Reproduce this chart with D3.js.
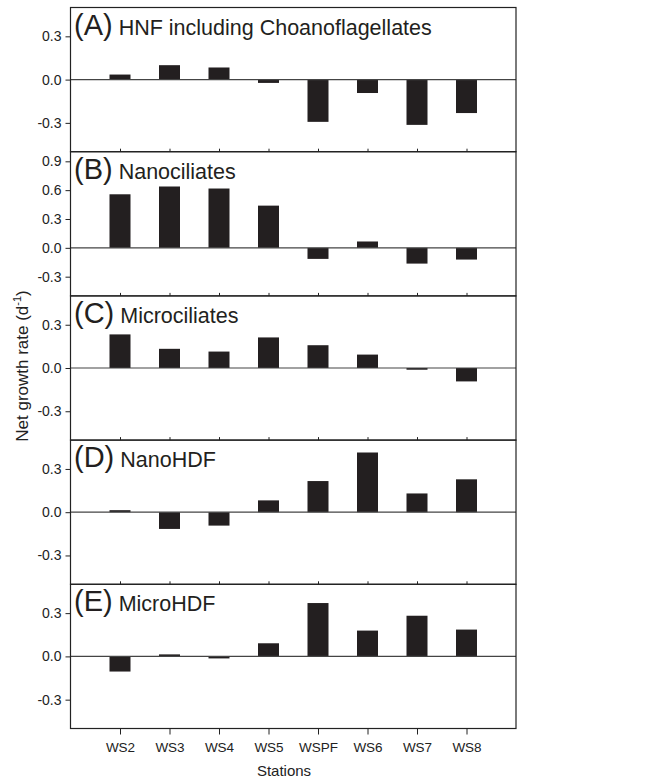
<!DOCTYPE html>
<html>
<head>
<meta charset="utf-8">
<script src="https://cdn.jsdelivr.net/npm/d3@7"></script>
<style>
  body { margin: 0; background: #fff; }
  svg { font-family: "Liberation Sans", Arial, sans-serif; }
  .axis path { display: none; }
  .axis line { stroke: #222; }
  .axis text { font-size: 14px; fill: #222; }
</style>
</head>
<body>
<div id="chart"></div>
<script>
// stations on the x axis
var stations = ['WS2', 'WS3', 'WS4', 'WS5', 'WSPF', 'WS6', 'WS7', 'WS8'];

// net growth rate (d-1) per panel
var hnfChoano = [0.035, 0.10, 0.084, -0.023, -0.293, -0.093, -0.314, -0.232];
var nanociliates = [0.557, 0.638, 0.617, 0.439, -0.115, 0.066, -0.164, -0.122];
var microciliates = [0.233, 0.133, 0.114, 0.212, 0.158, 0.093, -0.012, -0.093];
var nanoHDF = [0.014, -0.116, -0.093, 0.082, 0.216, 0.414, 0.130, 0.228];
var microHDF = [-0.105, 0.014, -0.014, 0.091, 0.37, 0.179, 0.282, 0.186];

var panelLetters = ['(A)', '(B)', '(C)', '(D)', '(E)'];
var panelNames = ['HNF including Choanoflagellates', 'Nanociliates', 'Microciliates', 'NanoHDF', 'MicroHDF'];
var panelMax = [0.5, 1.0, 0.5, 0.5, 0.5];
var yTicksSmall = [-0.3, 0, 0.3];
var yTicksB = [-0.3, 0, 0.3, 0.6, 0.9];

var series = [hnfChoano, nanociliates, microciliates, nanoHDF, microHDF];

var W = 651, H = 782;
var left = 70.5, right = 516, top0 = 7.5, panelH = 144.2;

var svg = d3.select('#chart').append('svg')
    .attr('width', W).attr('height', H);

var x = d3.scalePoint()
    .domain(stations)
    .range([left, right])
    .padding(1);

var barW = 21;

series.forEach(function (vals, i) {
    var pTop = top0 + i * panelH;
    var y = d3.scaleLinear()
        .domain([-0.5, panelMax[i]])
        .range([pTop + panelH, pTop]);

    var g = svg.append('g').attr('class', 'panel');

    // bars
    g.selectAll('rect.bar')
        .data(vals)
        .enter().append('rect')
        .attr('class', 'bar')
        .attr('x', function (d, j) { return x(stations[j]) - barW / 2; })
        .attr('width', barW)
        .attr('y', function (d) { return y(Math.max(0, d)); })
        .attr('height', function (d) { return Math.abs(y(d) - y(0)); })
        .attr('fill', '#231f20');

    // zero line
    g.append('line')
        .attr('x1', left).attr('x2', right)
        .attr('y1', y(0)).attr('y2', y(0))
        .attr('stroke', '#444')
        .attr('stroke-width', 1.2);

    // y axis
    g.append('g')
        .attr('class', 'axis')
        .attr('transform', 'translate(' + left + ',0)')
        .call(d3.axisLeft(y)
            .tickValues(i === 1 ? yTicksB : yTicksSmall)
            .tickSize(5)
            .tickPadding(4)
            .tickFormat(function (d) { return d.toFixed(1); }));

    // x ticks at panel bottom
    if (i < series.length - 1) {
        g.append('g')
            .attr('class', 'axis')
            .attr('transform', 'translate(0,' + (pTop + panelH) + ')')
            .call(d3.axisBottom(x).tickSize(-3).tickFormat(''))
            .selectAll('line').attr('stroke', '#999');
    } else {
        var xa = g.append('g')
            .attr('class', 'axis')
            .attr('transform', 'translate(0,' + (pTop + panelH) + ')')
            .call(d3.axisBottom(x).tickSize(6).tickPadding(8));
        xa.selectAll('text').style('font-size', '13.5px');
    }

    // frame
    g.append('rect')
        .attr('x', left).attr('y', pTop)
        .attr('width', right - left).attr('height', panelH)
        .attr('fill', 'none')
        .attr('stroke', '#222')
        .attr('stroke-width', 1.2);

    // title
    var t = g.append('text')
        .attr('x', left + 3.5)
        .attr('y', pTop + 27)
        .attr('fill', '#231f20');
    t.append('tspan').style('font-size', '29px').text(panelLetters[i]);
    t.append('tspan').style('font-size', '21.5px').text(' ' + panelNames[i]);
});

// axis titles
var yl = svg.append('text')
    .attr('transform', 'translate(28,366) rotate(-90)')
    .attr('text-anchor', 'middle')
    .style('font-size', '17px')
    .attr('fill', '#222');
yl.append('tspan').text('Net growth rate (d');
yl.append('tspan').attr('dy', -7).style('font-size', '11px').text('-1');
yl.append('tspan').attr('dy', 7).text(')');

svg.append('text')
    .attr('x', 284).attr('y', 776)
    .attr('text-anchor', 'middle')
    .style('font-size', '15px')
    .attr('fill', '#222')
    .text('Stations');
</script>
</body>
</html>
